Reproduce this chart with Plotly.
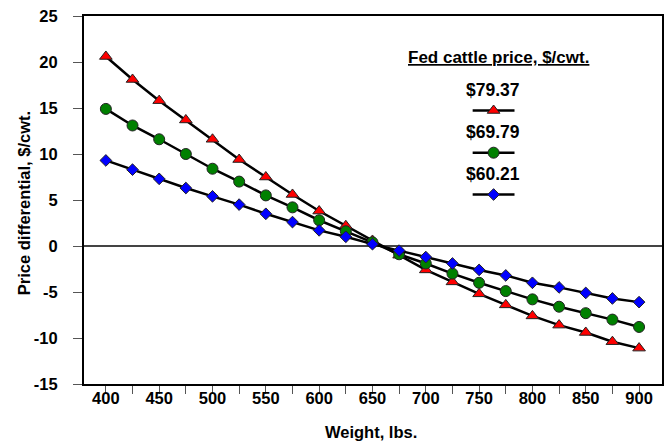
import plotly.graph_objects as go

weights = [400, 425, 450, 475, 500, 525, 550, 575, 600, 625, 650,
           675, 700, 725, 750, 775, 800, 825, 850, 875, 900]

price_7937 = [20.6, 18.1, 15.8, 13.7, 11.6, 9.4, 7.5, 5.6, 3.8, 2.2, 0.6,
              -1.0, -2.6, -3.9, -5.2, -6.4, -7.6, -8.6, -9.4, -10.4, -11.1]
price_6979 = [14.9, 13.1, 11.6, 10.0, 8.4, 7.0, 5.5, 4.2, 2.8, 1.6, 0.4,
              -0.9, -1.9, -3.0, -4.0, -4.9, -5.8, -6.6, -7.3, -8.0, -8.8]
price_6021 = [9.3, 8.3, 7.3, 6.3, 5.4, 4.5, 3.5, 2.6, 1.7, 1.0, 0.2,
              -0.5, -1.2, -1.9, -2.6, -3.2, -4.0, -4.5, -5.1, -5.7, -6.1]

series_names = ["$79.37", "$69.79", "$60.21"]
legend_title = "Fed cattle price, $/cwt."
x_title = "Weight, lbs."
y_title = "Price differential, $/cwt."

x_tick_marks = list(range(400, 901, 25))
x_label_vals = list(range(400, 901, 50))
y_tickvals = [-15, -10, -5, 0, 5, 10, 15, 20, 25]
y_ticktext = [str(v) for v in y_tickvals]  # plain hyphen-minus as in the original

FONT = "Liberation Sans, Arial, sans-serif"
X_RANGE = [379.5, 921.5]

# plot area in pixels (for placing the hand-made legend and titles)
L, R, T, B = 84, 664, 16, 384
def px_x(p):
    return (p - L) / (R - L)
def px_y(p):
    return (B - p) / (B - T)
def px_xdata(p):
    return X_RANGE[0] + px_x(p) * (X_RANGE[1] - X_RANGE[0])

styles = [
    dict(symbol="triangle-up", color="#ff0000", size=11),
    dict(symbol="circle", color="#008000", size=11),
    dict(symbol="diamond", color="#0000ff", size=9),
]

fig = go.Figure()
for vals, st, name in zip([price_7937, price_6979, price_6021], styles, series_names):
    fig.add_trace(go.Scatter(
        x=weights, y=vals, mode="lines+markers", name=name,
        line=dict(color="black", width=2.5),
        marker=dict(symbol=st["symbol"], color=st["color"], size=st["size"],
                    line=dict(color="#222222", width=1)),
        showlegend=False,
    ))

# custom legend (label above sample line), drawn on x3 (label axis) / y2 (0..1 overlay)
label_ys = [px_y(90), px_y(131.5), px_y(174)]
sample_ys = [px_y(110.5), px_y(152.7), px_y(194.5)]
x_left, x_right, x_mid = px_xdata(474), px_xdata(516), px_xdata(495)
for st, sy in zip(styles, sample_ys):
    fig.add_trace(go.Scatter(
        x=[x_left, x_right], y=[sy, sy], mode="lines",
        line=dict(color="black", width=2.5), xaxis="x3", yaxis="y2",
        showlegend=False, hoverinfo="skip"))
    fig.add_trace(go.Scatter(
        x=[x_mid], y=[sy], mode="markers", xaxis="x3", yaxis="y2",
        marker=dict(symbol=st["symbol"], color=st["color"], size=st["size"],
                    line=dict(color="#222222", width=1)),
        showlegend=False, hoverinfo="skip"))

annotations = [dict(
    x=px_x(500), y=px_y(57), xref="paper", yref="paper",
    text="<b><u>" + legend_title + "</u></b>", showarrow=False,
    font=dict(family=FONT, size=17, color="black"), xanchor="center", yanchor="middle")]
for name, ly in zip(series_names, label_ys):
    annotations.append(dict(
        x=px_x(494), y=ly, xref="paper", yref="paper", text="<b>" + name + "</b>",
        showarrow=False, font=dict(family=FONT, size=17.5, color="black"),
        xanchor="center", yanchor="middle"))
annotations.append(dict(
    x=px_x(372), y=px_y(432), xref="paper", yref="paper", text="<b>" + x_title + "</b>",
    showarrow=False, font=dict(family=FONT, size=16.5, color="black"),
    xanchor="center", yanchor="middle"))
annotations.append(dict(
    x=px_x(24), y=px_y(203), xref="paper", yref="paper", text="<b>" + y_title + "</b>",
    showarrow=False, textangle=-90, font=dict(family=FONT, size=16.5, color="black"),
    xanchor="center", yanchor="middle"))

fig.update_layout(
    width=671, height=447,
    margin=dict(l=L, r=671 - R, t=T, b=447 - B),
    paper_bgcolor="white", plot_bgcolor="white",
    font=dict(family=FONT, color="black"),
    annotations=annotations,
    # x axis: frame + tick marks every 25 (labels come from xaxis3)
    xaxis=dict(
        range=X_RANGE, tickvals=x_tick_marks, showticklabels=False,
        ticks="outside", ticklen=8, tickcolor="#555555", tickwidth=1,
        showgrid=False, zeroline=False,
        showline=True, linecolor="black", linewidth=2, mirror=True,
    ),
    # overlay x axis carrying the tick labels every 50, set close to the frame
    xaxis3=dict(
        range=X_RANGE, tickvals=x_label_vals, overlaying="x", anchor="y", side="bottom",
        ticks="", ticklabelstandoff=2, showline=False, showgrid=False, zeroline=False,
        tickfont=dict(family=FONT, size=16.5, color="black", weight="bold"),
        fixedrange=True,
    ),
    yaxis=dict(
        range=[-15, 25], tickvals=y_tickvals, ticktext=y_ticktext,
        ticks="outside", ticklen=9, tickcolor="#555555", tickwidth=1,
        ticklabelstandoff=12,
        tickfont=dict(family=FONT, size=16.5, color="black", weight="bold"),
        showgrid=False, zeroline=True, zerolinecolor="#444444", zerolinewidth=1.5,
        showline=True, linecolor="black", linewidth=2, mirror=True,
    ),
    yaxis2=dict(range=[0, 1], overlaying="y", visible=False, fixedrange=True),
)

fig.write_html("out.html", config={"displayModeBar": False},
               post_script="document.body.style.margin='0';")
